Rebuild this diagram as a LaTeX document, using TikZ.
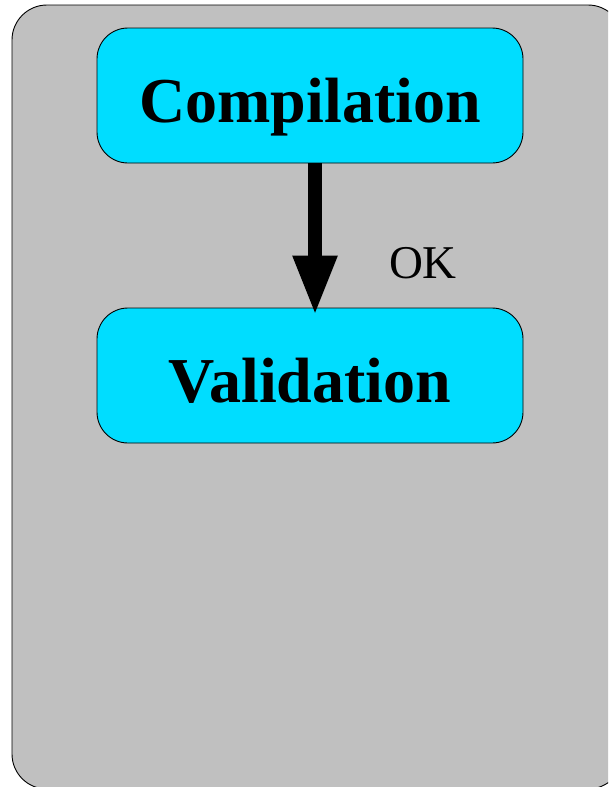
\documentclass[tikz,border=0pt]{standalone}
\usepackage{fontspec}
\setmainfont{Liberation Serif}
\usetikzlibrary{arrows.meta}
\definecolor{boxcyan}{RGB}{0,221,255}
\definecolor{panelgray}{RGB}{192,192,192}
\tikzset{
  stagebox/.style={draw=black, line width=0.9pt, fill=boxcyan, rounded corners=31pt,
    minimum width=426pt, minimum height=135pt, inner sep=0pt,
    text height=53pt, text depth=0pt,
    font=\fontsize{64}{70}\selectfont\bfseries},
  bigarrow/.style={line width=14pt, -{Triangle[length=60pt,width=41pt]}},
  lbl/.style={font=\fontsize{47}{52}\selectfont, inner sep=0pt}
}
\begin{document}
\begin{tikzpicture}[x=1pt,y=-1pt]
\useasboundingbox (0,0) rectangle (608,787);
\begin{scope}
\clip (0,0) rectangle (608,787);
\draw[line width=0.9pt, fill=panelgray, rounded corners=35pt] (12,5) rectangle (623,789);
\end{scope}
\node[stagebox] (comp) at (310,95.5) {Compilation};
\node[stagebox] (valid) at (310,375.5) {Validation};
\draw[bigarrow] ([xshift=5pt]comp.south) -- ([xshift=5pt,yshift=-8pt]valid.north);
\node[lbl] (ok) at (423,263) {OK};
\end{tikzpicture}
\end{document}
